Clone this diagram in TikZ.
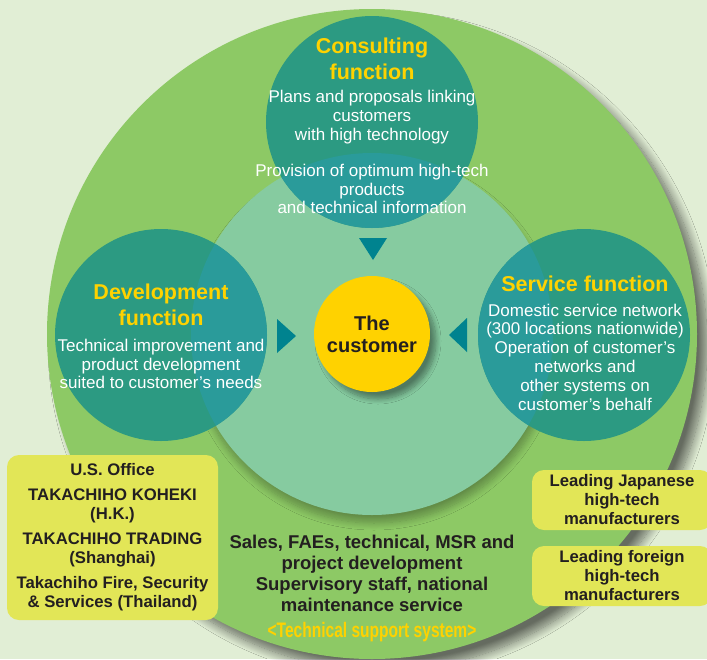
\documentclass[tikz,border=0pt]{standalone}
\usepackage{fontspec}
\usepackage{graphicx}
\setmainfont{Liberation Sans}
\usetikzlibrary{shadows.blur}
\definecolor{bgc}{HTML}{E1EED5}
\definecolor{outerc}{HTML}{8DC965}
\definecolor{innerc}{HTML}{86CBA0}
\definecolor{tealA}{HTML}{2C9A82}
\definecolor{tealB}{HTML}{2A9B9A}
\definecolor{gold}{HTML}{FFD200}
\definecolor{arrowc}{HTML}{00838F}
\definecolor{boxc}{HTML}{E2E657}
\definecolor{ink}{HTML}{231F20}
\begin{document}
\begin{tikzpicture}[x=1pt,y=-1pt,
  titletext/.style={text=gold, font=\fontsize{21.5}{26.5}\selectfont\bfseries, align=center, inner sep=0pt},
  bodytext/.style={text=white, font=\fontsize{17}{18.8}\selectfont, align=center, inner sep=0pt},
  darktext/.style={text=ink, font=\fontsize{18.5}{21}\selectfont\bfseries, align=center, inner sep=0pt},
  funcircle/.style={circle, fill=tealA, minimum size=212pt, inner sep=0pt},
  ybox/.style={fill=boxc, rounded corners=12pt, inner sep=0pt, align=center, text=ink,
    font=\fontsize{16.7}{19}\selectfont\bfseries},
  tri/.style={fill=arrowc}
]
\useasboundingbox (0,0) rectangle (707,659);
\fill[bgc] (0,0) rectangle (707,659);
\begin{scope}
\clip (0,0) rectangle (707,659);
% outer circle
\node[circle, minimum size=650pt, inner sep=0pt, fill=outerc,
  blur shadow={shadow xshift=10pt, shadow yshift=-11pt, shadow blur radius=9pt, shadow opacity=55, shadow blur steps=14}] (big) at (372,334) {};
% inner circle
\node[circle, minimum size=362pt, inner sep=0pt, fill=innerc,
  blur shadow={shadow xshift=2pt, shadow yshift=-8pt, shadow blur radius=7pt, shadow opacity=30, shadow blur steps=10}] (inn) at (372,334) {};
% function circles
\node[funcircle] (cons) at (372,122) {};
\node[funcircle] (dev) at (161,335) {};
\node[funcircle] (serv) at (584,335) {};
\begin{scope}
\clip (inn.center) circle[radius=181];
\fill[tealB] (cons.center) circle[radius=106];
\fill[tealB] (dev.center) circle[radius=106];
\fill[tealB] (serv.center) circle[radius=106];
\end{scope}
% customer
\node[circle, minimum size=116pt, inner sep=0pt, fill=gold,
  blur shadow={shadow xshift=6pt, shadow yshift=-7pt, shadow blur radius=5pt, shadow opacity=40, shadow blur steps=10}] (cust) at (372,334) {};
% triangles
\fill[tri] (359,238) -- (387,238) -- (373,260) -- cycle;
\fill[tri] (277,319) -- (277,353) -- (296,336) -- cycle;
\fill[tri] (467,318) -- (467,352) -- (449,335) -- cycle;
% texts
\node[titletext] (ctitle) at (372,59) {Consulting\\function};
\node[bodytext] (cplans) at (372,117) {Plans and proposals linking\\customers\\with high technology};
\node[bodytext] (cprov) at (372,189) {Provision of optimum high-tech\\products\\and technical information};
\node[titletext] (dtitle) at (161,305) {Development\\function};
\node[bodytext] (dbody) at (161,364) {Technical improvement and\\product development\\suited to customer’s needs};
\node[titletext] (stitle) at (585,284) {Service function};
\node[bodytext] (sbody) at (585,357) {Domestic service network\\(300 locations nationwide)\\Operation of customer’s\\networks and\\other systems on\\customer’s behalf};
\node[text=ink, font=\fontsize{20}{22}\selectfont\bfseries, align=center, inner sep=0pt] (ctext) at (cust.center) {The\\customer};
\node[darktext] (sales) at (372,573) {Sales, FAEs, technical, MSR and\\project development\\Supervisory staff, national\\maintenance service};
\node[text=gold, font=\fontsize{21}{22}\selectfont\bfseries, inner sep=0pt] (tss) at (372,632) {\scalebox{0.74}[1]{<Technical support system>}};
% boxes
\node[ybox, minimum width=211pt, minimum height=165pt] (office) at (112.5,537.5)
  {U.S. Office\\[6pt]TAKACHIHO KOHEKI\\(H.K.)\\[6pt]TAKACHIHO TRADING\\(Shanghai)\\[6pt]Takachiho Fire, Security\\\& Services (Thailand)};
\node[ybox, minimum width=180pt, minimum height=60pt] (japan) at (622,500)
  {Leading Japanese\\high-tech\\manufacturers};
\node[ybox, minimum width=180pt, minimum height=60pt] (foreign) at (622,576)
  {Leading foreign\\high-tech\\manufacturers};
\end{scope}
\end{tikzpicture}
\end{document}
